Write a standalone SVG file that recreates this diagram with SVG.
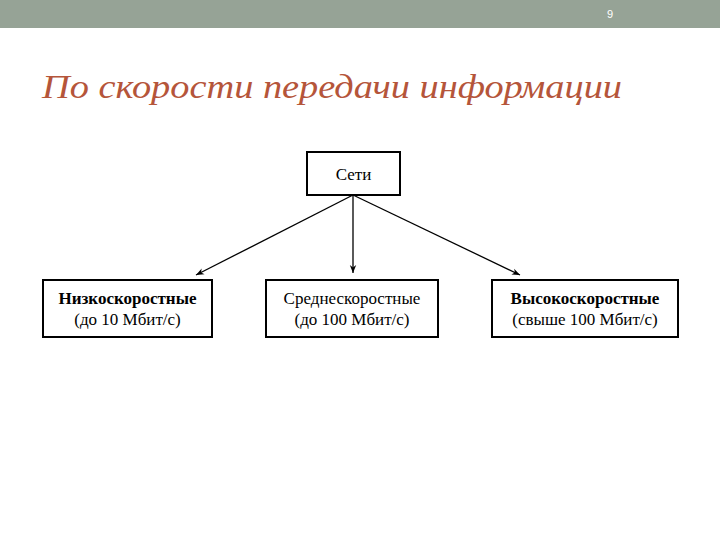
<svg xmlns="http://www.w3.org/2000/svg" width="720" height="540" viewBox="0 0 720 540">
<defs>
<style>
.box{fill:#fff;stroke:#000;stroke-width:2}
.t{font-family:"Liberation Serif",serif;font-size:17px;text-anchor:middle;fill:#000}
.b{font-weight:bold}
.c{stroke:#000;stroke-width:1.3;fill:none}
</style>
<marker id="a" viewBox="0 0 10 10" refX="10" refY="5" markerWidth="8" markerHeight="8" orient="auto-start-reverse" markerUnits="userSpaceOnUse"><path d="M0,1 L10,5 L0,9 L3,5 z" fill="#000"/></marker>
</defs>
<rect width="720" height="540" fill="#fff"/>
<rect width="720" height="28" fill="#96a396"/>
<text x="610" y="18" font-family="Liberation Sans,sans-serif" font-size="11" fill="#fff" text-anchor="middle">9</text>
<text x="42" y="98" font-family="Liberation Serif,serif" font-style="italic" font-size="33" fill="#b5553a" textLength="580" lengthAdjust="spacingAndGlyphs">По скорости передачи информации</text>
<g id="root"><rect class="box" x="307" y="152" width="93" height="43"/><text class="t" x="353.5" y="180">Сети</text></g>
<g id="low"><rect class="box" x="43" y="280" width="169" height="57"/><text class="t b" x="127.5" y="304">Низкоскоростные</text><text class="t" x="127.5" y="325">(до 10 Мбит/с)</text></g>
<g id="mid"><rect class="box" x="266" y="280" width="172" height="57"/><text class="t" x="352" y="304">Среднескоростные</text><text class="t" x="352" y="325">(до 100 Мбит/с)</text></g>
<g id="high"><rect class="box" x="492" y="280" width="186" height="57"/><text class="t b" x="585" y="304">Высокоскоростные</text><text class="t" x="585" y="325">(свыше 100 Мбит/с)</text></g>
<g id="connectors">
<line class="c" x1="353" y1="195" x2="196" y2="275" marker-end="url(#a)"/>
<line class="c" x1="353" y1="195" x2="353" y2="273" marker-end="url(#a)"/>
<line class="c" x1="353" y1="195" x2="520" y2="275" marker-end="url(#a)"/>
</g>
</svg>
